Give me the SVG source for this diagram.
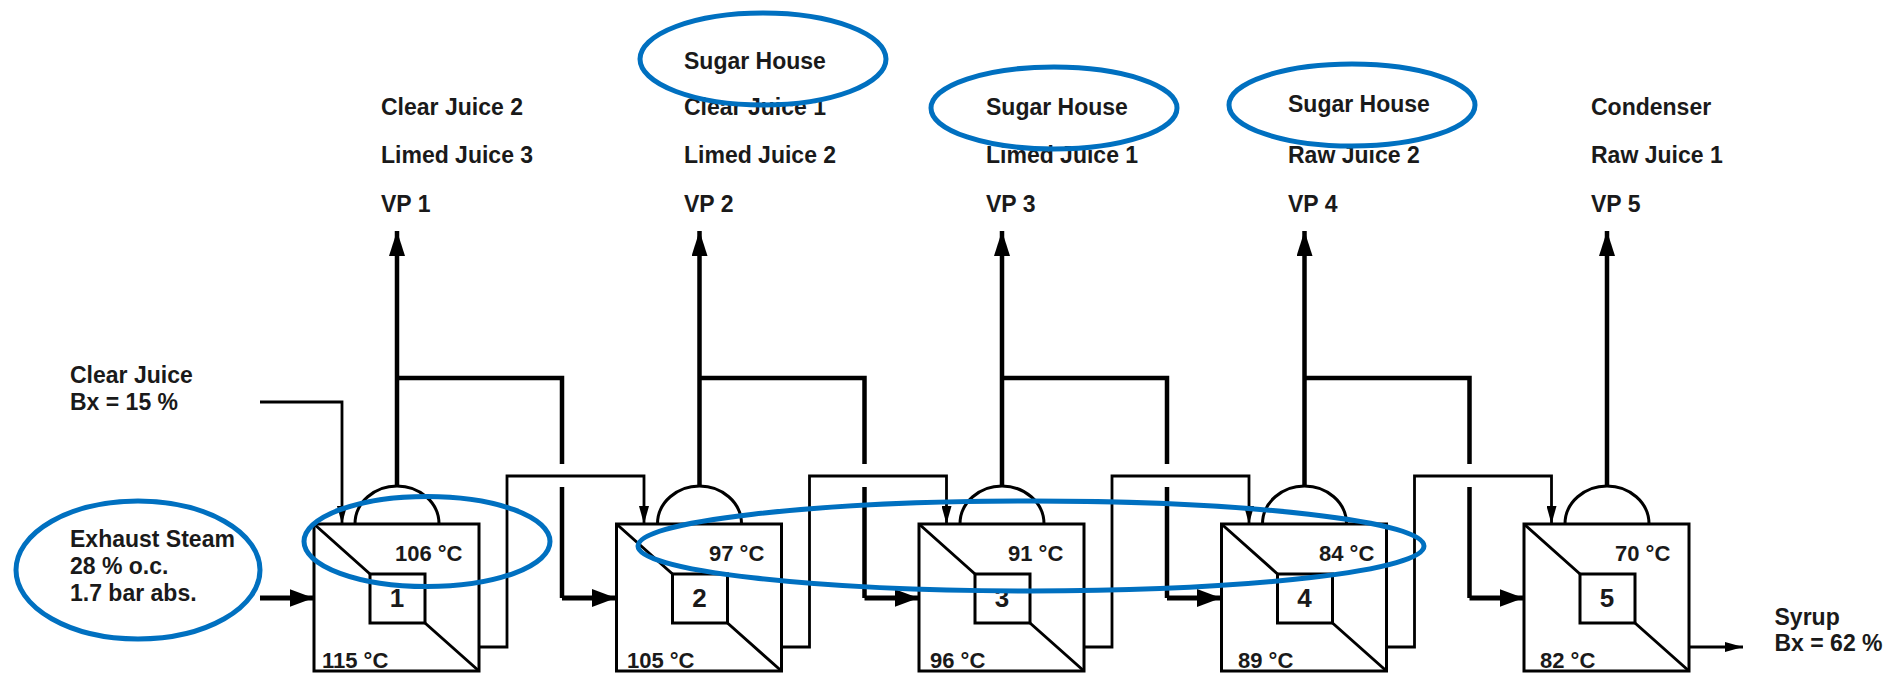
<svg xmlns="http://www.w3.org/2000/svg" width="1890" height="673" viewBox="0 0 1890 673">
<style>
text{font-family:"Liberation Sans",Arial,sans-serif;font-size:23px;font-weight:700;fill:#1a1a1a}
.n{font-size:26px;text-anchor:middle}
.c{font-size:22px}
.l{fill:none;stroke:#000;stroke-width:2.8}
.d{fill:none;stroke:#000;stroke-width:3}
.v{fill:none;stroke:#000;stroke-width:4.5}
.t{fill:none;stroke:#000;stroke-width:5}
.e{fill:none;stroke:#0070C0;stroke-width:5}
</style>
<defs>
<marker id="h" markerUnits="userSpaceOnUse" markerWidth="24" markerHeight="18" refX="24" refY="9" orient="auto"><path d="M0 0L24 9L0 18Z" fill="#000"/></marker>
<marker id="s" markerUnits="userSpaceOnUse" markerWidth="18" markerHeight="10" refX="18" refY="5" orient="auto"><path d="M0 0L18 5L0 10Z" fill="#000"/></marker>
<marker id="u" markerUnits="userSpaceOnUse" markerWidth="25" markerHeight="16" refX="25" refY="8" orient="auto"><path d="M0 0L25 8L0 16Z" fill="#000"/></marker>
</defs>
<g id="connectors">
<path class="t" d="M260 598H313.500" marker-end="url(#h)"/>
<path class="l" d="M260 402H342V524" marker-end="url(#s)"/>
<path class="v" d="M397 486V231" marker-end="url(#u)"/>
<path class="v" d="M699.500 486V231" marker-end="url(#u)"/>
<path class="v" d="M1002 486V231" marker-end="url(#u)"/>
<path class="v" d="M1304.500 486V231" marker-end="url(#u)"/>
<path class="v" d="M1607 486V231" marker-end="url(#u)"/>
<path class="v" d="M397 378H562V464M562 487V598"/>
<path class="v" d="M699.500 378H864.500V464M864.500 487V598"/>
<path class="v" d="M1002 378H1167V464M1167 487V598"/>
<path class="v" d="M1304.500 378H1469.500V464M1469.500 487V598"/>
<path class="t" d="M562 598H616" marker-end="url(#h)"/>
<path class="t" d="M864.500 598H918.500" marker-end="url(#h)"/>
<path class="t" d="M1167 598H1221" marker-end="url(#h)"/>
<path class="t" d="M1469.500 598H1523.500" marker-end="url(#h)"/>
<path class="l" d="M478.500 647H507V476H644V524" marker-end="url(#s)"/>
<path class="l" d="M781 647H809.500V476H946.500V524" marker-end="url(#s)"/>
<path class="l" d="M1083.500 647H1112V476H1249V524" marker-end="url(#s)"/>
<path class="l" d="M1386 647H1414.500V476H1551.500V524" marker-end="url(#s)"/>
<path class="l" d="M1688.500 647H1743" marker-end="url(#s)"/>
</g>
<g id="effect-1">
<path class="d" d="M355 524C355 502 375 486 397 486S439 502 439 524"/>
<rect class="d" x="314" y="524" width="165" height="147"/>
<rect class="d" x="370" y="574" width="55" height="49"/>
<path class="d" d="M314 524L370 574M425 623L479 671"/>
<text class="n" x="397" y="607">1</text><text class="c" x="395" y="561">106 °C</text><text class="c" x="322" y="668">115 °C</text>
</g>
<g id="effect-2">
<path class="d" d="M657.500 524C657.500 502 677.500 486 699.500 486S741.500 502 741.500 524"/>
<rect class="d" x="616.500" y="524" width="165" height="147"/>
<rect class="d" x="672.500" y="574" width="55" height="49"/>
<path class="d" d="M616.500 524L672.500 574M727.500 623L781.500 671"/>
<text class="n" x="699.500" y="607">2</text><text class="c" x="709" y="561">97 °C</text><text class="c" x="627" y="668">105 °C</text>
</g>
<g id="effect-3">
<path class="d" d="M960 524C960 502 980 486 1002 486S1044 502 1044 524"/>
<rect class="d" x="919" y="524" width="165" height="147"/>
<rect class="d" x="975" y="574" width="55" height="49"/>
<path class="d" d="M919 524L975 574M1030 623L1084 671"/>
<text class="n" x="1002" y="607">3</text><text class="c" x="1008" y="561">91 °C</text><text class="c" x="930" y="668">96 °C</text>
</g>
<g id="effect-4">
<path class="d" d="M1262.500 524C1262.500 502 1282.500 486 1304.500 486S1346.500 502 1346.500 524"/>
<rect class="d" x="1221.500" y="524" width="165" height="147"/>
<rect class="d" x="1277.500" y="574" width="55" height="49"/>
<path class="d" d="M1221.500 524L1277.500 574M1332.500 623L1386.500 671"/>
<text class="n" x="1304.500" y="607">4</text><text class="c" x="1319" y="561">84 °C</text><text class="c" x="1238" y="668">89 °C</text>
</g>
<g id="effect-5">
<path class="d" d="M1565 524C1565 502 1585 486 1607 486S1649 502 1649 524"/>
<rect class="d" x="1524" y="524" width="165" height="147"/>
<rect class="d" x="1580" y="574" width="55" height="49"/>
<path class="d" d="M1524 524L1580 574M1635 623L1689 671"/>
<text class="n" x="1607" y="607">5</text><text class="c" x="1615" y="561">70 °C</text><text class="c" x="1540" y="668">82 °C</text>
</g>
<g id="labels">
<text x="70" y="383">Clear Juice</text><text x="70" y="410">Bx = 15 %</text>
<text x="70" y="547">Exhaust Steam</text><text x="70" y="574">28 % o.c.</text><text x="70" y="601">1.7 bar abs.</text>
<text x="1774.500" y="625">Syrup</text><text x="1774.500" y="651">Bx = 62 %</text>
<text x="381" y="115">Clear Juice 2</text><text x="381" y="163">Limed Juice 3</text><text x="381" y="212">VP 1</text>
<text x="684" y="115">Clear Juice 1</text><text x="684" y="163">Limed Juice 2</text><text x="684" y="212">VP 2</text>
<text x="986" y="163">Limed Juice 1</text><text x="986" y="212">VP 3</text>
<text x="1288" y="163">Raw Juice 2</text><text x="1288" y="212">VP 4</text>
<text x="1591" y="115">Condenser</text><text x="1591" y="163">Raw Juice 1</text><text x="1591" y="212">VP 5</text>
<text x="684" y="69">Sugar House</text><text x="986" y="115">Sugar House</text><text x="1288" y="112">Sugar House</text>
</g>
<g id="highlights">
<ellipse class="e" cx="763" cy="59" rx="123" ry="46"/>
<ellipse class="e" cx="1054" cy="108" rx="123" ry="41"/>
<ellipse class="e" cx="1352" cy="105" rx="123" ry="41"/>
<ellipse class="e" cx="138" cy="570" rx="122" ry="69"/>
<ellipse class="e" cx="427" cy="541.500" rx="123" ry="45"/>
<ellipse class="e" cx="1031" cy="546" rx="393" ry="45"/>
</g>
</svg>
